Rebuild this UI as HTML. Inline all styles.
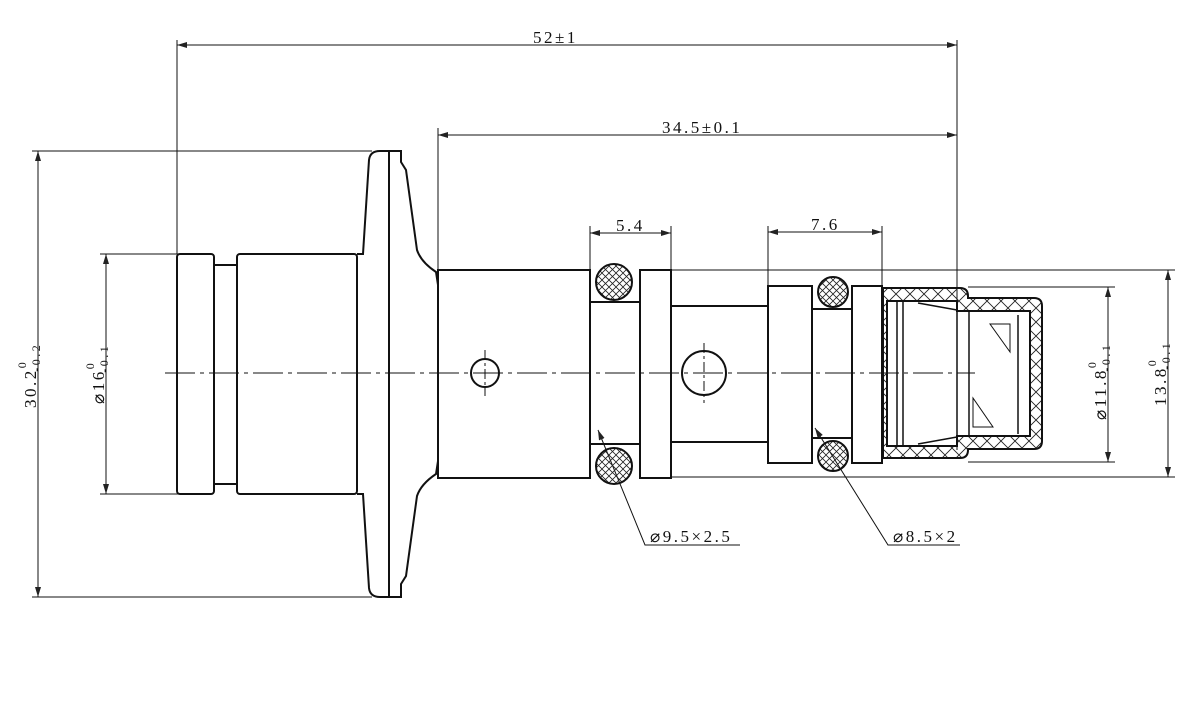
<!DOCTYPE html>
<html><head><meta charset="utf-8"><style>html,body{margin:0;padding:0;background:#fff}svg{display:block}</style></head>
<body>
<svg width="1186" height="717" viewBox="0 0 1186 717" xmlns="http://www.w3.org/2000/svg" font-family="'Liberation Serif','Noto Serif CJK SC',serif">
<defs>
<pattern id="x" width="7" height="7" patternUnits="userSpaceOnUse"><path d="M0 0L7 7M7 0L0 7" stroke="#222" stroke-width="0.8"/></pattern>
<pattern id="y" width="14" height="14" patternUnits="userSpaceOnUse"><path d="M0 0L14 14M14 0L0 14" stroke="#222" stroke-width="0.9"/></pattern>
<marker id="a" markerWidth="10" markerHeight="6" refX="10" refY="3" orient="auto-start-reverse" markerUnits="userSpaceOnUse"><path d="M0 0L10 3L0 6z" fill="#222"/></marker>
</defs>
<g fill="none" stroke="#111" stroke-width="1">
<line x1="177" y1="45" x2="957" y2="45" marker-start="url(#a)" marker-end="url(#a)"/>
<line x1="177" y1="40" x2="177" y2="254"/><line x1="957" y1="40" x2="957" y2="450"/>
<line x1="438" y1="135" x2="957" y2="135" marker-start="url(#a)" marker-end="url(#a)"/>
<line x1="438" y1="128" x2="438" y2="270"/>
<line x1="590" y1="233" x2="671" y2="233" marker-start="url(#a)" marker-end="url(#a)"/>
<line x1="590" y1="226" x2="590" y2="270"/><line x1="671" y1="226" x2="671" y2="270"/>
<line x1="768" y1="232" x2="882" y2="232" marker-start="url(#a)" marker-end="url(#a)"/>
<line x1="768" y1="226" x2="768" y2="286"/><line x1="882" y1="226" x2="882" y2="286"/>
<line x1="38" y1="151" x2="38" y2="597" marker-start="url(#a)" marker-end="url(#a)"/>
<line x1="32" y1="151" x2="372" y2="151"/><line x1="32" y1="597" x2="372" y2="597"/>
<line x1="106" y1="254" x2="106" y2="494" marker-start="url(#a)" marker-end="url(#a)"/>
<line x1="100" y1="254" x2="180" y2="254"/><line x1="100" y1="494" x2="180" y2="494"/>
<line x1="1108" y1="287" x2="1108" y2="462" marker-start="url(#a)" marker-end="url(#a)"/>
<line x1="1168" y1="270" x2="1168" y2="477" marker-start="url(#a)" marker-end="url(#a)"/>
<line x1="968" y1="287" x2="1115" y2="287"/><line x1="968" y1="462" x2="1115" y2="462"/>
<line x1="671" y1="270" x2="1175" y2="270"/><line x1="671" y1="477" x2="1175" y2="477"/>
<line x1="165" y1="373" x2="975" y2="373" stroke-dasharray="30,5,4,5"/>
<line x1="485" y1="350" x2="485" y2="396" stroke-dasharray="10,3,3,3"/>
<line x1="704" y1="343" x2="704" y2="403" stroke-dasharray="10,3,3,3"/>
<polyline points="740,545 645,545 598,430" marker-end="url(#a)"/>
<polyline points="960,545 888,545 815,428" marker-end="url(#a)"/>
</g>
<g fill="none" stroke="#111" stroke-width="2">
<rect x="177" y="254" width="37" height="240" rx="3"/>
<rect x="214" y="265" width="23" height="219"/>
<rect x="237" y="254" width="120" height="240" rx="3"/>
<path d="M357 254 H363 L369 160 Q370 151 380 151 H401 V162 L406 170 L417 250 Q421 262 436 272 L438 285 V461 L436 474 Q421 484 417 496 L406 576 L401 584 V597 H380 Q370 597 369 588 L363 494 H357"/>
<line x1="389" y1="151" x2="389" y2="597"/>
<rect x="438" y="270" width="152" height="208"/>
<circle cx="485" cy="373" r="14"/>
<rect x="590" y="302" width="50" height="142"/>
<rect x="640" y="270" width="31" height="208"/>
<rect x="671" y="306" width="97" height="136"/>
<circle cx="704" cy="373" r="22"/>
<rect x="768" y="286" width="44" height="177"/>
<rect x="812" y="309" width="40" height="129"/>
<rect x="852" y="286" width="30" height="177"/>
</g>
<g stroke="#111" stroke-width="2" fill="url(#x)">
<circle cx="614" cy="282" r="18"/><circle cx="614" cy="466" r="18"/>
<circle cx="833" cy="292" r="15"/><circle cx="833" cy="456" r="15"/>
<path fill="url(#y)" fill-rule="evenodd" d="M883 288 H960 Q968 288 968 296 V298 H1034 Q1042 298 1042 306 V441 Q1042 449 1034 449 H968 V450 Q968 458 960 458 H883 Z M887 301 H957 V311 H1030 V436 H957 V446 H887 Z"/>
</g>
<g fill="none" stroke="#111" stroke-width="1.5">
<line x1="897" y1="301" x2="897" y2="446"/><line x1="903" y1="301" x2="903" y2="446"/>
<line x1="957" y1="311" x2="957" y2="436"/><line x1="969" y1="311" x2="969" y2="436"/>
<line x1="1018" y1="315" x2="1018" y2="434"/>
<line x1="918" y1="303" x2="957" y2="310"/><line x1="918" y1="444" x2="957" y2="437"/>
<path d="M990 324 L1010 324 L1010 352 Z" stroke-width="1"/>
<path d="M973 398 L973 427 L993 427 Z" stroke-width="1"/>
</g>
<g fill="#111" font-size="17" letter-spacing="2.5">
<text x="533" y="43">52±1</text>
<text x="662" y="133">34.5±0.1</text>
<text x="616" y="231">5.4</text>
<text x="811" y="230">7.6</text>
<text x="650" y="542">⌀9.5×2.5</text>
<text x="893" y="542">⌀8.5×2</text>
<text transform="translate(36 408) rotate(-90)">30.2<tspan font-size="12" dy="-10">0</tspan><tspan font-size="12" dx="-12" dy="14">-0.2</tspan></text>
<text transform="translate(104 404) rotate(-90)">⌀16<tspan font-size="12" dy="-10">0</tspan><tspan font-size="12" dx="-12" dy="14">-0.1</tspan></text>
<text transform="translate(1106 420) rotate(-90)">⌀11.8<tspan font-size="12" dy="-10">0</tspan><tspan font-size="12" dx="-12" dy="14">-0.1</tspan></text>
<text transform="translate(1166 406) rotate(-90)">13.8<tspan font-size="12" dy="-10">0</tspan><tspan font-size="12" dx="-12" dy="14">-0.1</tspan></text>
</g>
</svg>
</body></html>
